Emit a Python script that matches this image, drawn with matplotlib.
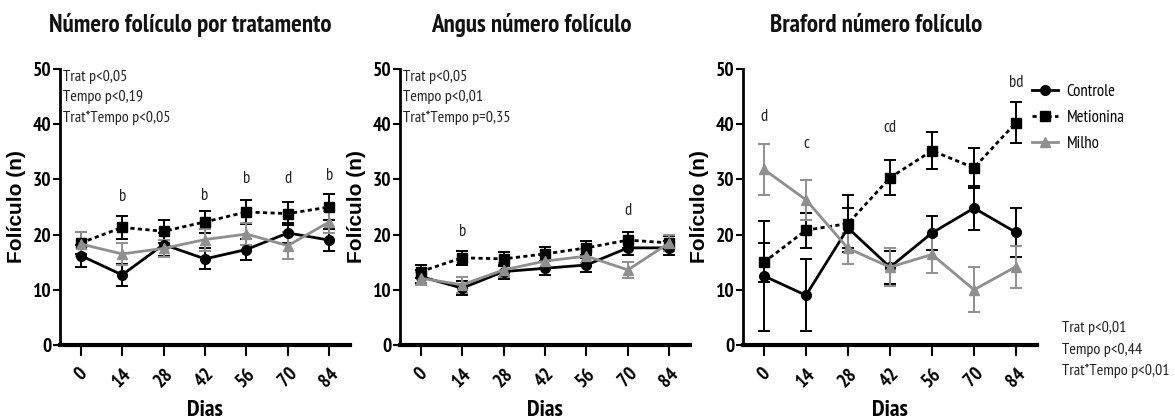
import matplotlib
matplotlib.use("Agg")
import matplotlib.pyplot as plt
from matplotlib import font_manager

fl = font_manager.fontManager.ttflist
def has(name):
    ws = [f.weight for f in fl if f.name == name and f.style == 'normal']
    ws = [w if isinstance(w, int) else {'normal': 400, 'bold': 700}.get(w, 400) for w in ws]
    return any(w >= 600 for w in ws) and any(350 <= w < 600 for w in ws)

NARROW = 'Liberation Sans'
for cand in ['Liberation Sans Narrow', 'Arial Narrow', 'PT Sans Narrow', 'Roboto Condensed',
             'Archivo Narrow', 'Asap Condensed', 'Barlow Condensed']:
    if has(cand):
        NARROW = cand
        break
plt.rcParams['font.family'] = [NARROW, 'DejaVu Sans']

dias = [0, 14, 28, 42, 56, 70, 84]
tick_labels = ['0', '14', '28', '42', '56', '70', '84']
series_names = ['Controle', 'Metionina', 'Milho']

# Panel 1: Número folículo por tratamento
p1_controle = [16.2, 12.7, 18.2, 15.6, 17.3, 20.3, 19.0]
p1_controle_err = [2.0, 2.0, 2.0, 1.9, 1.9, 1.8, 2.0]
p1_metionina = [18.5, 21.3, 20.6, 22.3, 24.1, 23.8, 25.0]
p1_metionina_err = [2.0, 2.1, 2.1, 2.0, 2.1, 2.1, 2.3]
p1_milho = [18.3, 16.5, 17.5, 19.1, 20.1, 18.0, 22.3]
p1_milho_err = [2.2, 2.0, 1.5, 2.0, 2.0, 2.4, 2.0]
p1_letters = [(14, 25.3, 'b'), (42, 25.6, 'b'), (56, 28.6, 'b'), (70, 28.6, 'd'), (84, 29.2, 'b')]
p1_stats = ['Trat p<0,05', 'Tempo p<0,19', 'Trat*Tempo p<0,05']

# Panel 2: Angus número folículo
p2_controle = [12.4, 10.3, 13.3, 13.9, 14.5, 17.6, 17.6]
p2_controle_err = [1.2, 1.3, 1.3, 1.3, 1.2, 1.3, 1.3]
p2_metionina = [13.3, 15.8, 15.6, 16.5, 17.6, 19.0, 18.5]
p2_metionina_err = [1.2, 1.3, 1.2, 1.3, 1.3, 1.4, 1.3]
p2_milho = [12.1, 10.9, 13.6, 15.2, 16.1, 13.6, 18.5]
p2_milho_err = [1.2, 1.4, 1.3, 1.3, 1.3, 1.4, 1.4]
p2_letters = [(14, 19.0, 'b'), (70, 22.9, 'd')]
p2_stats = ['Trat p<0,05', 'Tempo p<0,01', 'Trat*Tempo p=0,35']

# Panel 3: Braford número folículo
p3_controle = [12.5, 9.0, 21.2, 14.1, 20.3, 24.8, 20.4]
p3_controle_err = [10.0, 6.5, 3.6, 3.0, 3.0, 4.0, 4.4]
p3_metionina = [15.0, 20.8, 22.0, 30.3, 35.2, 32.1, 40.3]
p3_metionina_err = [3.5, 3.2, 5.2, 3.2, 3.3, 3.6, 3.7]
p3_milho = [31.8, 26.3, 17.5, 14.1, 16.4, 10.0, 14.2]
p3_milho_err = [4.6, 3.6, 2.8, 3.5, 3.3, 4.1, 3.8]
p3_letters = [(0, 39.8, 'd'), (14, 35.0, 'c'), (42, 37.8, 'cd'), (84, 46.0, 'bd')]
p3_stats = ['Trat p<0,01', 'Tempo p<0,44', 'Trat*Tempo p<0,01']

titles = ['Número folículo por tratamento', 'Angus número folículo', 'Braford número folículo']

GREY = '#8f8f8f'
TXT = '#222222'
styles = {
    'Controle': dict(color='black', ls='-', marker='o', ms=7),
    'Metionina': dict(color='black', ls=(0, (1.5, 1.2)), marker='s', ms=7),
    'Milho': dict(color=GREY, ls='-', marker='^', ms=7),
}

W, H = 1175, 419
fig = plt.figure(figsize=(W / 100, H / 100), dpi=100)

ax_px = [(60, 350), (400, 690), (743, 1037)]
title_x = [190, 531, 876]
y_bottom, y_top = 345, 69

panels = [
    (p1_controle, p1_controle_err, p1_metionina, p1_metionina_err, p1_milho, p1_milho_err, p1_letters, p1_stats),
    (p2_controle, p2_controle_err, p2_metionina, p2_metionina_err, p2_milho, p2_milho_err, p2_letters, p2_stats),
    (p3_controle, p3_controle_err, p3_metionina, p3_metionina_err, p3_milho, p3_milho_err, p3_letters, p3_stats),
]

handles = []
for i, (l, r) in enumerate(ax_px):
    ax = fig.add_axes([l / W, 1 - y_bottom / H, (r - l) / W, (y_bottom - y_top) / H])
    c, ce, m, me, mi, mie, letters, stats = panels[i]
    data = [(c, ce, 'Controle'), (m, me, 'Metionina'), (mi, mie, 'Milho')]
    for vals, errs, name in data:
        st = styles[name]
        ax.errorbar(dias, vals, yerr=errs, color=st['color'], ecolor=st['color'],
                    elinewidth=1.4, capsize=4, capthick=1.4, lw=0, zorder=2)
        h, = ax.plot(dias, vals, color=st['color'], ls=st['ls'], lw=2.0,
                     marker=st['marker'], ms=st['ms'], mfc=st['color'], mec=st['color'],
                     label=name, zorder=3)
        if i == 0:
            handles.append(h)
    for x, y, t in letters:
        ax.text(x, y, t, ha='center', va='bottom', fontsize=12, color=TXT)
    if i < 2:
        for k, s in enumerate(stats):
            ax.text(0.012, 0.998 - k * 0.074, s, transform=ax.transAxes, ha='left', va='top',
                    fontsize=11.5, color=TXT)
    else:
        for k, s in enumerate(stats):
            fig.text(1062 / W, 1 - (328 + k * 21.5) / H, s, ha='left', va='center',
                     fontsize=11.5, color=TXT)
    ax.set_xlim(-7, 91)
    ax.set_ylim(0, 50)
    ax.set_yticks([0, 10, 20, 30, 40, 50])
    ax.set_yticklabels(['0', '10', '20', '30', '40', '50'], fontsize=14, fontweight='bold')
    ax.set_xticks(dias)
    ax.set_xticklabels(tick_labels, rotation=45, ha='center', va='top', fontsize=14, fontweight='bold')
    for side in ['top', 'right']:
        ax.spines[side].set_visible(False)
    ax.spines['left'].set_linewidth(2.0)
    ax.spines['bottom'].set_linewidth(3.0)
    ax.tick_params(axis='y', direction='out', length=5, width=1.5, pad=1)
    ax.tick_params(axis='x', direction='out', length=8, width=1.5, pad=6)
    ax.set_xlabel('Dias', fontsize=17, fontweight='bold', labelpad=7)
    ax.set_ylabel('Folículo (n)', fontsize=15, fontweight='bold',
                  family=['Liberation Sans', 'DejaVu Sans'], labelpad=5)
    fig.text(title_x[i] / W, 1 - 32 / H, titles[i], ha='center', va='baseline',
             fontsize=18, fontweight='bold', color='#111111')
    ax.patch.set_alpha(0)

fig.legend(handles=handles, labels=series_names, loc='upper left',
           bbox_to_anchor=(1025 / W, 1 - 77 / H), frameon=False, fontsize=12,
           handlelength=1.6, labelspacing=0.6, borderaxespad=0, handletextpad=0.5)

fig.savefig('out.png', dpi=100)
